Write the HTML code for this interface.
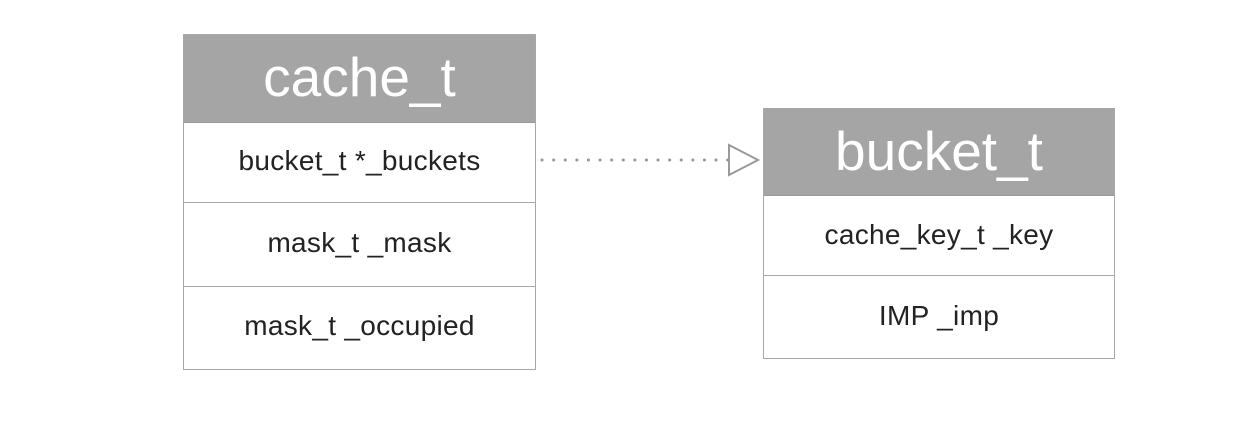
<!DOCTYPE html>
<html><head><style>
body{margin:0;width:1253px;height:431px;background:#fff;position:relative;overflow:hidden;font-family:"Liberation Sans",sans-serif;}
.box{position:absolute;border:1.5px solid #a8a8a8;box-sizing:border-box;background:#fff}
.h{background:#a5a5a5;color:#fff;text-align:center;font-size:55px;font-weight:300;box-sizing:border-box;border-bottom:1.5px solid #999}
.r{text-align:center;font-size:28px;color:#222;border-bottom:1.5px solid #a8a8a8;box-sizing:border-box;letter-spacing:0.3px}
.r:last-child{border-bottom:none}
</style></head><body>
<div class="box" style="left:183px;top:34px;width:353px;height:336px">
<div class="h" style="height:88px;line-height:84px">cache_t</div>
<div class="r" style="height:80px;line-height:76px">bucket_t *_buckets</div>
<div class="r" style="height:84px;line-height:80px">mask_t _mask</div>
<div class="r" style="height:82px;line-height:78px">mask_t _occupied</div>
</div>
<div class="box" style="left:763px;top:108px;width:352px;height:251px">
<div class="h" style="height:87px;line-height:85px">bucket_t</div>
<div class="r" style="height:80px;line-height:78px">cache_key_t _key</div>
<div class="r" style="height:82px;line-height:80px">IMP _imp</div>
</div>
<svg style="position:absolute;left:0;top:0" width="1253" height="431">
<line x1="542" y1="160" x2="728" y2="160" stroke="#999" stroke-width="3" stroke-dasharray="0.1,11.5" stroke-linecap="round"/>
<polygon points="729,145 758,160 729,175" fill="#fff" stroke="#999" stroke-width="2"/>
</svg>
</body></html>
